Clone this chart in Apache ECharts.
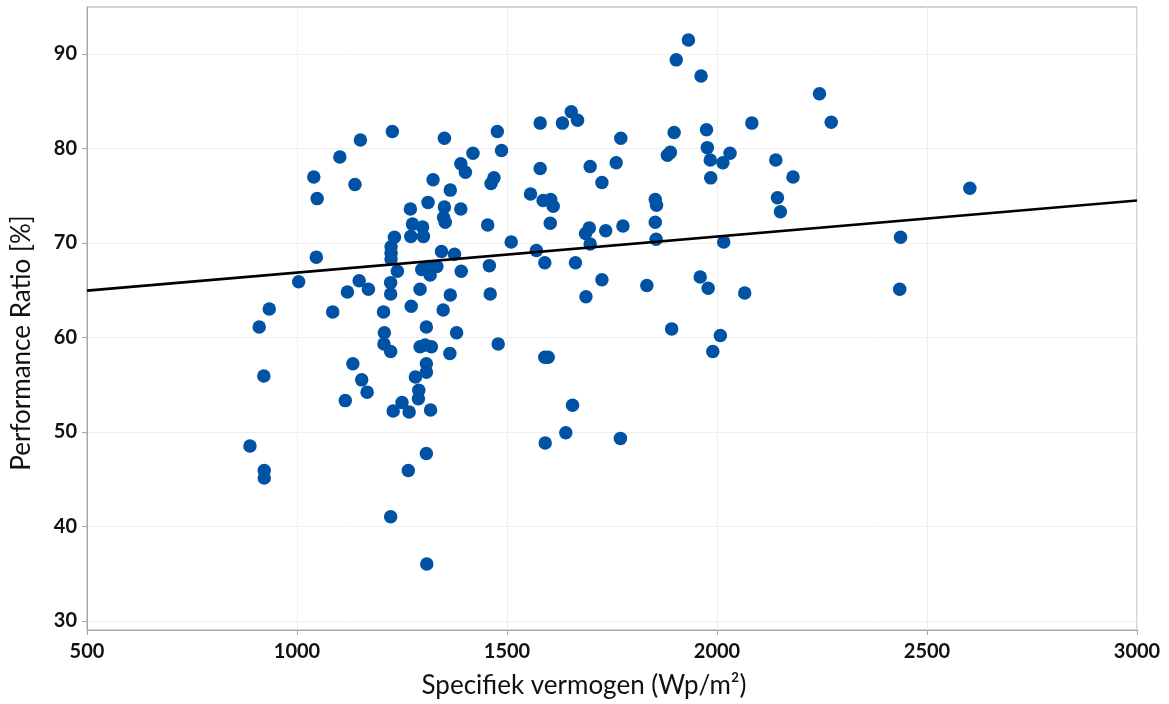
<!DOCTYPE html>
<html>
<head>
<meta charset="utf-8">
<script src="https://cdn.jsdelivr.net/npm/echarts@6/dist/echarts.min.js"></script>
<style>
  html, body { margin: 0; padding: 0; background: #ffffff; }
  #chart { width: 1169px; height: 704px; }
</style>
</head>
<body>
<div id="chart"></div>
<script>
// Specific power (Wp/m²) per installation
const specifiekVermogen = [
  888, 910, 921, 922, 922, 934, 1004, 1040, 1046, 1048,
  1085, 1102, 1115, 1120, 1133, 1138, 1148, 1151, 1154, 1167,
  1170, 1206, 1208, 1207, 1223, 1223, 1223, 1223, 1224, 1224,
  1224, 1227, 1229, 1232, 1239, 1250, 1265, 1267, 1270, 1271,
  1272, 1275, 1282, 1290, 1289, 1293, 1293, 1299, 1301, 1297,
  1305, 1308, 1308, 1308, 1308, 1309, 1312, 1313, 1317, 1318,
  1320, 1324, 1333, 1344, 1348, 1349, 1351, 1351, 1353, 1364,
  1365, 1365, 1375, 1380, 1390, 1390, 1391, 1401, 1419, 1454,
  1458, 1460, 1462, 1469, 1477, 1479, 1487, 1510, 1556, 1570,
  1579, 1579, 1586, 1590, 1598, 1590, 1591, 1603, 1604, 1610,
  1632, 1640, 1653, 1656, 1663, 1668, 1687, 1688, 1696, 1698,
  1698, 1726, 1726, 1735, 1760, 1771, 1770, 1776, 1833, 1853,
  1856, 1853, 1855, 1882, 1889, 1892, 1898, 1903, 1932, 1960,
  1962, 1975, 1977, 1979, 1984, 1985, 1990, 2008, 2014, 2016,
  2031, 2066, 2083, 2140, 2144, 2151, 2181, 2244, 2272, 2435,
  2437, 2602
];

// Performance ratio (%) per installation, same order
const performanceRatio = [
  48.5, 61.1, 55.9, 45.9, 45.1, 63.0, 65.9, 77.0, 68.5, 74.7,
  62.7, 79.1, 53.3, 64.8, 57.2, 76.2, 66.0, 80.9, 55.5, 54.2,
  65.1, 62.7, 60.5, 59.3, 58.5, 65.8, 64.6, 41.0, 69.6, 68.9,
  68.3, 81.8, 52.2, 70.6, 67.0, 53.1, 45.9, 52.1, 73.6, 70.7,
  63.3, 72.0, 55.8, 54.4, 53.5, 65.1, 59.0, 71.7, 70.7, 67.2,
  59.2, 61.1, 57.2, 56.3, 47.7, 36.0, 74.3, 67.5, 66.6, 52.3,
  59.0, 76.7, 67.5, 69.1, 62.9, 72.7, 73.8, 81.1, 72.2, 58.3,
  75.6, 64.5, 68.8, 60.5, 73.6, 78.4, 67.0, 77.5, 79.5, 71.9,
  67.6, 64.6, 76.3, 76.9, 81.8, 59.3, 79.8, 70.1, 75.2, 69.2,
  82.7, 77.9, 74.5, 57.9, 57.9, 67.9, 48.8, 72.1, 74.6, 73.9,
  82.7, 49.9, 83.9, 52.8, 67.9, 83.0, 71.0, 64.3, 71.6, 69.9,
  78.1, 76.4, 66.1, 71.3, 78.5, 81.1, 49.3, 71.8, 65.5, 74.6,
  74.0, 72.2, 70.4, 79.3, 79.6, 60.9, 81.7, 89.4, 91.5, 66.4,
  87.7, 82.0, 80.1, 65.2, 78.8, 76.9, 58.5, 60.2, 78.5, 70.1,
  79.5, 64.7, 82.7, 78.8, 74.8, 73.3, 77.0, 85.8, 82.8, 65.1,
  70.6, 75.8
];

// Linear trend line end points
const trendX = [500, 3000];
const trendY = [64.95, 74.5];

// Axis ticks
const xTicks = [500, 1000, 1500, 2000, 2500, 3000];
const yTicks = [30, 40, 50, 60, 70, 80, 90];

const FONT = 'Lato, "Open Sans", sans-serif';
const AXIS_GREY = '#a6a6a6';
const GRID_GREY = '#efefef';
const DOT_BLUE = '#0052a4';

const scatterData = specifiekVermogen.map((x, i) => [x, performanceRatio[i]]);
const trendData = trendX.map((x, i) => [x, trendY[i]]);

const chart = echarts.init(document.getElementById('chart'), null, { renderer: 'canvas' });

chart.setOption({
  animation: false,
  backgroundColor: '#ffffff',
  grid: [
    // plotting area (data range 29 – 95)
    { left: 87, right: 32, top: 7, bottom: 74, show: true, borderColor: AXIS_GREY, borderWidth: 1, backgroundColor: 'transparent' },
    // labelled range 30 – 90
    { left: 87, right: 32, top: 54, bottom: 83, show: false }
  ],
  xAxis: [
    {
      type: 'value', gridIndex: 0,
      min: xTicks[0], max: xTicks[xTicks.length - 1], interval: xTicks[1] - xTicks[0],
      name: 'Specifiek vermogen (Wp/m²)',
      nameLocation: 'middle', nameGap: 43,
      nameTextStyle: { fontFamily: FONT, fontSize: 26, color: '#111111', padding: [0, 56, 0, 0] },
      axisLine: { show: true, onZero: false, lineStyle: { color: AXIS_GREY, width: 1 } },
      axisTick: { show: true, length: 5, lineStyle: { color: AXIS_GREY } },
      axisLabel: {
        fontFamily: FONT, fontSize: 20, fontWeight: 'bold', color: '#111111', margin: 12,
        formatter: (v) => String(v)
      },
      splitLine: { show: true, lineStyle: { color: GRID_GREY, width: 1 } }
    },
    {
      type: 'value', gridIndex: 1, show: false,
      min: xTicks[0], max: xTicks[xTicks.length - 1]
    }
  ],
  yAxis: [
    {
      type: 'value', gridIndex: 0, min: 29, max: 95,
      axisLine: { show: true, onZero: false, lineStyle: { color: AXIS_GREY, width: 1 } },
      axisTick: { show: false },
      axisLabel: { show: false },
      splitLine: { show: false }
    },
    {
      type: 'value', gridIndex: 1,
      min: yTicks[0], max: yTicks[yTicks.length - 1], interval: yTicks[1] - yTicks[0],
      name: 'Performance Ratio [%]',
      nameLocation: 'middle', nameGap: 52, nameRotate: 90,
      nameTextStyle: { fontFamily: FONT, fontSize: 26, color: '#111111', padding: [0, 11, 0, 0] },
      axisLine: { show: false },
      axisTick: { show: true, length: 5, lineStyle: { color: AXIS_GREY } },
      axisLabel: { fontFamily: FONT, fontSize: 20, fontWeight: 'bold', color: '#111111', margin: 10 },
      splitLine: { show: true, lineStyle: { color: GRID_GREY, width: 1 } }
    }
  ],
  series: [
    {
      type: 'scatter',
      xAxisIndex: 0, yAxisIndex: 0,
      data: scatterData,
      symbol: 'circle',
      symbolSize: 13.5,
      itemStyle: { color: DOT_BLUE, opacity: 1 },
      z: 3
    },
    {
      type: 'line',
      xAxisIndex: 0, yAxisIndex: 0,
      data: trendData,
      symbol: 'none',
      lineStyle: { color: '#000000', width: 2.6 },
      z: 4
    }
  ]
});
</script>
</body>
</html>
